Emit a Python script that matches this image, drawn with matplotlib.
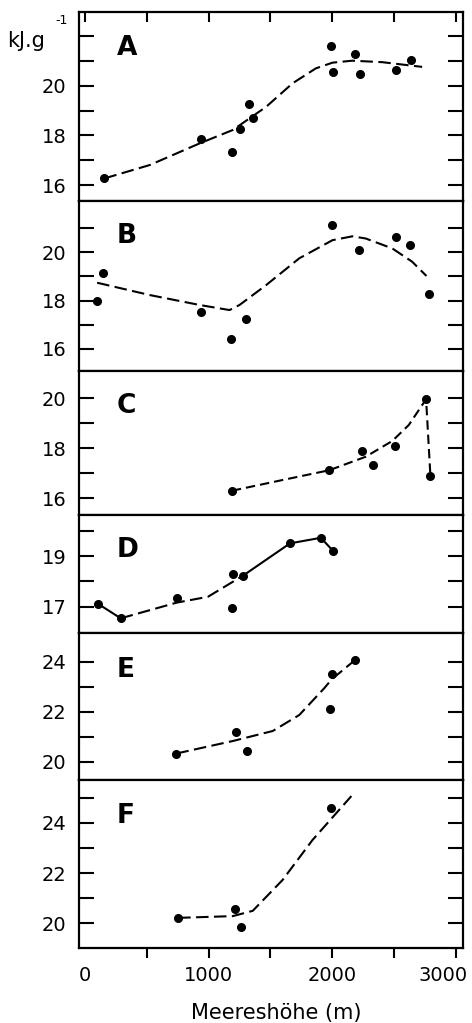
import matplotlib
matplotlib.use('Agg')
import matplotlib.pyplot as plt
import matplotlib.transforms as mtransforms

plt.rcParams['font.family'] = ['DejaVu Sans']

W, H = 472, 1023
fig = plt.figure(figsize=(W / 100, H / 100), dpi=100)

# ---------------- data ----------------
A_x = [156, 935, 1186, 1255, 1323, 1358, 1992, 2005, 2188, 2226, 2516, 2640]
A_y = [16.27, 17.84, 17.34, 18.24, 19.26, 18.69, 21.61, 20.54, 21.28, 20.48, 20.65, 21.04]
A_cx = [156, 524, 927, 1196, 1465, 1680, 1868, 2003, 2164, 2406, 2729]
A_cy = [16.27, 16.81, 17.68, 18.22, 19.15, 20.10, 20.70, 20.93, 21.01, 20.95, 20.76]

B_x = [97, 143, 935, 1177, 1304, 1997, 2220, 2514, 2629, 2785]
B_y = [17.98, 19.15, 17.52, 16.40, 17.25, 21.12, 20.09, 20.62, 20.30, 18.26]
B_cx = [97, 524, 927, 1169, 1250, 1465, 1734, 2003, 2164, 2272, 2487, 2648, 2764]
B_cy = [18.74, 18.23, 17.82, 17.61, 17.82, 18.64, 19.75, 20.50, 20.66, 20.57, 20.16, 19.61, 19.02]

C_x = [1188, 1976, 2245, 2331, 2508, 2761, 2796]
C_y = [16.30, 17.12, 17.89, 17.33, 18.08, 19.96, 16.90]
C_cx = [1188, 1599, 1976, 2272, 2487, 2621, 2761, 2796]
C_cy = [16.30, 16.73, 17.12, 17.66, 18.29, 18.93, 19.96, 16.90]

D_x = [105, 288, 742, 1196, 1188, 1277, 1659, 1909, 2008]
D_y = [17.11, 16.54, 17.33, 18.29, 16.95, 18.22, 19.50, 19.72, 19.20]
D_s1x = [105, 288]
D_s1y = [17.11, 16.54]
D_dx = [288, 742, 994, 1277]
D_dy = [16.54, 17.16, 17.39, 18.22]
D_s2x = [1277, 1659, 1909, 2008]
D_s2y = [18.22, 19.50, 19.72, 19.20]

E_x = [739, 1218, 1309, 1984, 1997, 2186]
E_y = [20.33, 21.20, 20.42, 22.13, 23.51, 24.07]
E_cx = [739, 1196, 1519, 1734, 1936, 1997, 2186]
E_cy = [20.33, 20.83, 21.23, 21.87, 22.94, 23.30, 24.07]

F_x = [753, 1212, 1263, 1994]
F_y = [20.22, 20.56, 19.84, 24.61]
F_cx = [753, 1196, 1357, 1599, 1841, 2156]
F_cy = [20.22, 20.29, 20.50, 21.73, 23.32, 25.07]

letters = ['A', 'B', 'C', 'D', 'E', 'F']
yticks = [[16, 17, 18, 19, 20, 21, 22],
          [16, 17, 18, 19, 20, 21],
          [16, 17, 18, 19, 20],
          [17, 18, 19, 20],
          [20, 21, 22, 23, 24],
          [20, 21, 22, 23, 24, 25]]
ylabels = [['16', '', '18', '', '20', '', ''],
           ['16', '', '18', '', '20', ''],
           ['16', '', '18', '', '20'],
           ['17', '', '19', ''],
           ['20', '', '22', '', '24'],
           ['20', '', '22', '', '24', '']]
xticks = [0, 500, 1000, 1500, 2000, 2500, 3000]
xlabels = ['0', '', '1000', '', '2000', '', '3000']

# ---------------- layout (pixels) ----------------
left_px, right_px = 79, 463
tops = [12, 201, 371, 515, 633, 780]
bots = [201, 371, 515, 633, 780, 948]
ylims = [(15.36, 22.97), (15.09, 22.12), (15.33, 21.09),
         (15.96, 20.62), (19.27, 25.15), (19.02, 25.71)]
letter_base = [55, 243, 413, 557, 677, 823]
xlim = (-50, 3060)

dash = (6, 2.6)
lw = 1.5
ms = 5.5

axes = []
for i in range(6):
    rect = [left_px / W, (H - bots[i]) / H, (right_px - left_px) / W, (bots[i] - tops[i]) / H]
    ax = fig.add_axes(rect)
    ax.set_xlim(*xlim)
    ax.set_ylim(*ylims[i])
    for s in ax.spines.values():
        s.set_linewidth(1.6)
    ax.set_yticks(yticks[i])
    ax.set_yticklabels(ylabels[i])
    ax.tick_params(axis='y', direction='in', length=11, width=1.5,
                   left=True, right=True, labelsize=14, pad=9)
    ax.tick_params(axis='x', bottom=False, top=False, labelbottom=False)
    axes.append(ax)

axA, axB, axC, axD, axE, axF = axes

axA.set_xticks(xticks)
axA.tick_params(axis='x', top=True, bottom=False, direction='in', length=7, width=1.5,
                labelbottom=False, labeltop=False)

axF.set_xticks(xticks)
axF.set_xticklabels(xlabels)
axF.tick_params(axis='x', bottom=True, direction='out', length=7, width=1.5,
                labelbottom=True, labelsize=14, pad=6)
axF.xaxis.get_major_ticks()[0].tick1line.set_visible(False)
last = axF.get_xticklabels()[-1]
last.set_transform(last.get_transform() +
                   mtransforms.ScaledTranslation(-13 / 100, 0, fig.dpi_scale_trans))

# ---------------- marks ----------------
axA.plot(A_cx, A_cy, color='black', lw=lw, dashes=dash)
axA.plot(A_x, A_y, 'o', color='black', ms=ms)

axB.plot(B_cx, B_cy, color='black', lw=lw, dashes=dash)
axB.plot(B_x, B_y, 'o', color='black', ms=ms)

axC.plot(C_cx, C_cy, color='black', lw=lw, dashes=(4.5, 2.4))
axC.plot(C_x, C_y, 'o', color='black', ms=ms)

axD.plot(D_s1x, D_s1y, color='black', lw=lw)
axD.plot(D_dx, D_dy, color='black', lw=lw, dashes=dash)
axD.plot(D_s2x, D_s2y, color='black', lw=lw)
axD.plot(D_x, D_y, 'o', color='black', ms=ms)

axE.plot(E_cx, E_cy, color='black', lw=lw, dashes=dash)
axE.plot(E_x, E_y, 'o', color='black', ms=ms)

axF.plot(F_cx, F_cy, color='black', lw=lw, dashes=dash)
axF.plot(F_x, F_y, 'o', color='black', ms=ms)

# ---------------- text ----------------
for i in range(6):
    fig.text(117 / W, 1 - letter_base[i] / H, letters[i], fontsize=19,
             fontweight='bold', ha='left', va='baseline')

fig.text(7 / W, 1 - 47 / H, 'kJ.g', fontsize=15, ha='left', va='baseline')
fig.text(55 / W, 1 - 24 / H, '-1', fontsize=9, ha='left', va='baseline')
fig.text(276 / W, 1 - 1013 / H, 'Meereshöhe (m)', fontsize=15, ha='center', va='center')

fig.savefig('out.png', dpi=100)
